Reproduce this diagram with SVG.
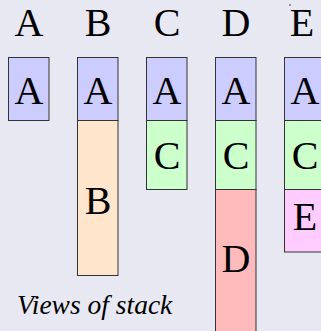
<svg xmlns="http://www.w3.org/2000/svg" width="321" height="331" viewBox="0 0 321 331">
<rect x="0" y="0" width="321" height="331" fill="#e8e8f2"/>
<g id="headers" font-family="Liberation Serif" font-size="40" text-anchor="middle" fill="#000">
<text x="29" y="36">A</text>
<text x="98" y="36">B</text>
<text x="167" y="36">C</text>
<text x="236" y="36">D</text>
<text x="302" y="36">E</text>
<circle cx="290" cy="5" r="0.7"/>
</g>
<g id="viewA" font-family="Liberation Serif" font-size="40" text-anchor="middle" stroke="#333">
<rect x="8.5" y="57.5" width="40.5" height="63" fill="#ccccff"/>
<text x="29" y="103.5" stroke="none">A</text>
</g>
<g id="viewB" font-family="Liberation Serif" font-size="40" text-anchor="middle" stroke="#333">
<rect x="77.5" y="57.5" width="40.5" height="63" fill="#ccccff"/>
<text x="98" y="103.5" stroke="none">A</text>
<rect x="77.5" y="120.5" width="40.5" height="155" fill="#ffe5cc"/>
<text x="98" y="214" stroke="none">B</text>
</g>
<g id="viewC" font-family="Liberation Serif" font-size="40" text-anchor="middle" stroke="#333">
<rect x="146.5" y="57.5" width="40.5" height="63" fill="#ccccff"/>
<text x="167" y="103.5" stroke="none">A</text>
<rect x="146.5" y="120.5" width="40.5" height="69" fill="#ccffcc"/>
<text x="167" y="169" stroke="none">C</text>
</g>
<g id="viewD" font-family="Liberation Serif" font-size="40" text-anchor="middle" stroke="#333">
<rect x="215.5" y="57.5" width="40.5" height="63" fill="#ccccff"/>
<text x="236" y="103.5" stroke="none">A</text>
<rect x="215.5" y="120.5" width="40.5" height="69" fill="#ccffcc"/>
<text x="236" y="169" stroke="none">C</text>
<rect x="215.5" y="189.5" width="40.5" height="160" fill="#ffbbbb"/>
<text x="236" y="271.5" stroke="none">D</text>
</g>
<g id="viewE" font-family="Liberation Serif" font-size="40" text-anchor="middle" stroke="#333">
<rect x="284.5" y="57.5" width="40.5" height="63" fill="#ccccff"/>
<text x="305" y="103.5" stroke="none">A</text>
<rect x="284.5" y="120.5" width="40.5" height="69" fill="#ccffcc"/>
<text x="305" y="169" stroke="none">C</text>
<rect x="284.5" y="189.5" width="40.5" height="62.5" fill="#ffccff"/>
<text x="305" y="230" stroke="none">E</text>
</g>
<g id="connectors"></g>
<text x="17" y="314" font-family="Liberation Serif" font-size="27.5" font-style="italic">Views of stack</text>
</svg>
